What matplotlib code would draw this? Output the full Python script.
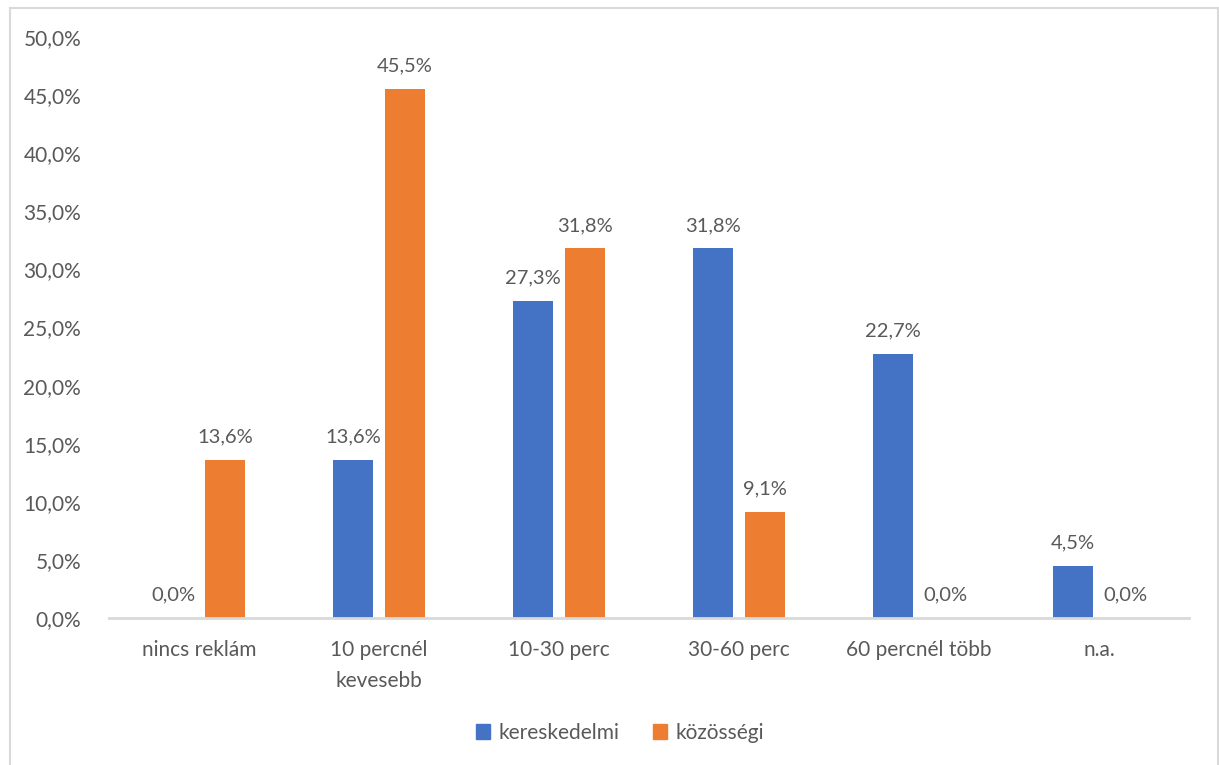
import matplotlib
matplotlib.use("Agg")
import matplotlib.pyplot as plt
from matplotlib.lines import Line2D
from matplotlib.patches import Patch
import numpy as np

categories = ["nincs reklám", "10 percnél\nkevesebb", "10-30 perc", "30-60 perc", "60 percnél több", "n.a."]
kereskedelmi = [0.0, 13.6, 27.3, 31.8, 22.7, 4.5]
kozossegi = [13.6, 45.5, 31.8, 9.1, 0.0, 0.0]
series_names = ["kereskedelmi", "közösségi"]
yticks = [0, 5, 10, 15, 20, 25, 30, 35, 40, 45, 50]

BLUE = "#4472C4"
ORANGE = "#ED7D31"
TXT = "#595959"

plt.rcParams['font.family'] = ['Lato', 'DejaVu Sans']

W, H = 1219, 765
fig = plt.figure(figsize=(W / 100, H / 100), dpi=100)
ax = fig.add_axes([109 / W, 1 - 618 / H, (1189 - 109) / W, (618 - 37) / H])

x = np.arange(len(categories))
bw = 40 / 180
off = 26 / 180
ax.bar(x - off, kereskedelmi, bw, color=BLUE, label=series_names[0])
ax.bar(x + off, kozossegi, bw, color=ORANGE, label=series_names[1])

def fmt(v):
    return f"{v:.1f}".replace(".", ",") + "%"

for xi, v in zip(x - off, kereskedelmi):
    ax.annotate(fmt(v), (xi, v), xytext=(0, 16.5), textcoords="offset points",
                ha="center", va="center", fontsize=14.5, color=TXT)
for xi, v in zip(x + off, kozossegi):
    ax.annotate(fmt(v), (xi, v), xytext=(0, 16.5), textcoords="offset points",
                ha="center", va="center", fontsize=14.5, color=TXT)

ax.set_xlim(-0.5, len(categories) - 0.5)
ax.set_ylim(0, 50)
ax.set_yticks(yticks)
ax.set_yticklabels([fmt(t) for t in yticks], fontsize=15, color=TXT)
ax.set_xticks(x)
ax.set_xticklabels(categories, fontsize=15, color=TXT, linespacing=1.7)
ax.tick_params(axis="both", length=0)
ax.tick_params(axis="y", pad=20)
ax.tick_params(axis="x", pad=16)
for s in ["top", "right", "left"]:
    ax.spines[s].set_visible(False)
ax.spines["bottom"].set_color("#D9D9D9")
ax.spines["bottom"].set_linewidth(2)

handles = [Patch(color=BLUE), Patch(color=ORANGE)]
fig.legend(handles, series_names, loc="center", bbox_to_anchor=(620 / W, 1 - 733 / H),
           ncol=2, frameon=False, fontsize=15, handlelength=0.7, handleheight=0.7,
           handletextpad=0.4, columnspacing=1.6, labelcolor=TXT)

# chart border (left, top, right)
bc = "#D9D9D9"
fig.add_artist(Line2D([9.5 / W, 9.5 / W], [0, 1 - 7.5 / H], color=bc, lw=1.5, transform=fig.transFigure))
fig.add_artist(Line2D([9.5 / W, 1217.5 / W], [1 - 7.5 / H, 1 - 7.5 / H], color=bc, lw=1.5, transform=fig.transFigure))
fig.add_artist(Line2D([1217.5 / W, 1217.5 / W], [0, 1 - 7.5 / H], color=bc, lw=1.5, transform=fig.transFigure))

fig.savefig("out.png", dpi=100)
